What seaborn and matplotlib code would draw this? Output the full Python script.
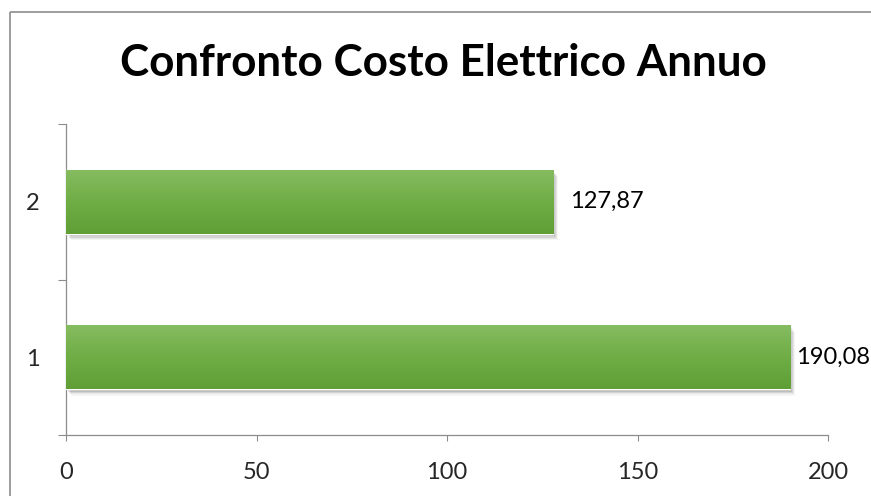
import numpy as np
import pandas as pd
import matplotlib
matplotlib.use("Agg")
import matplotlib.pyplot as plt
import matplotlib.transforms as mtransforms
from matplotlib.colors import LinearSegmentedColormap
from matplotlib.patches import Rectangle
from matplotlib.lines import Line2D
import seaborn as sns

# ---- data ----
categories = ["2", "1"]
values = [127.87, 190.08]
value_labels = ["127,87", "190,08"]
x_ticks = [0, 50, 100, 150, 200]
title = "Confronto Costo Elettrico Annuo"

sns.set_theme(style="white")
plt.rcParams['font.family'] = ['Lato', 'DejaVu Sans']

W, H = 871, 496
fig = plt.figure(figsize=(W / 100, H / 100), dpi=100)
fig.patch.set_facecolor("white")

ax = fig.add_axes([66 / W, 1 - 435 / H, (828 - 66) / W, (435 - 124) / H])
df = pd.DataFrame({"cat": categories, "val": values})
sns.barplot(data=df, x="val", y="cat", order=categories, orient="h",
            width=0.41, color="#70AD47", saturation=1, ax=ax, zorder=3)

gray = "#8C8C8C"
cmap = LinearSegmentedColormap.from_list("g", ["#86BC61", "#6FAD45", "#5F9F36"])
grad = np.linspace(0, 1, 256).reshape(-1, 1)

patches = list(ax.patches)
for p in patches:
    x0, y0 = p.get_x(), p.get_y()
    w, h = p.get_width(), p.get_height()
    # soft shadow
    for i, a in enumerate([0.10, 0.08, 0.06, 0.04]):
        off = mtransforms.offset_copy(ax.transData, fig=fig, x=1.5 + i * 0.6,
                                      y=-(2.0 + i * 0.9), units="points")
        sh = Rectangle((x0, y0), w, h, transform=off, facecolor="black",
                       alpha=a, edgecolor="none", zorder=1)
        ax.add_patch(sh)
    im = ax.imshow(grad, cmap=cmap, aspect="auto",
                   extent=[x0, x0 + w, y0 + h, y0], zorder=4,
                   interpolation="bilinear")
    im.set_clip_path(p)

ax.set_xlim(0, 200)
ax.set_ylim(1.5, -0.5)

ax.set_xticks(x_ticks)
ax.set_xticklabels([str(t) for t in x_ticks])
ax.set_yticks([-0.5, 0.5, 1.5])
ax.set_yticklabels([])
ax.set_yticks([0, 1], minor=True)
ax.set_yticklabels(categories, minor=True)

ax.tick_params(axis="x", which="major", direction="out", length=4.5, width=0.8,
               color=gray, labelsize=17, pad=15, bottom=True)
ax.tick_params(axis="y", which="major", direction="out", length=5.8, width=0.8,
               color=gray, left=True)
ax.tick_params(axis="y", which="minor", length=0, labelsize=17, pad=19, left=True)
ax.set_xlabel("")
ax.set_ylabel("")

for s in ["top", "right"]:
    ax.spines[s].set_visible(False)
for s in ["left", "bottom"]:
    ax.spines[s].set_color(gray)
    ax.spines[s].set_linewidth(0.9)
ax.grid(False)

offsets = [12, 4]
for p, lab, off in zip(patches, value_labels, offsets):
    ax.annotate(lab, xy=(p.get_x() + p.get_width(), p.get_y() + p.get_height() / 2),
                xytext=(off, 0), textcoords="offset points",
                va="center", ha="left", fontsize=17, color="black",
                annotation_clip=False, zorder=6)

fig.text(443.5 / W, 1 - 63 / H, title, ha="center", va="center",
         fontsize=31.7, fontweight="bold", color="black")

# chart-area border (cropped on right and bottom)
fig.add_artist(Line2D([9.5 / W, 1.0], [1 - 11.5 / H, 1 - 11.5 / H],
                      transform=fig.transFigure, color=gray, lw=1.2,
                      solid_capstyle="butt"))
fig.add_artist(Line2D([9.5 / W, 9.5 / W], [0.0, 1 - 11.5 / H],
                      transform=fig.transFigure, color=gray, lw=1.2,
                      solid_capstyle="butt"))

fig.savefig("out.png", dpi=100, facecolor="white")
